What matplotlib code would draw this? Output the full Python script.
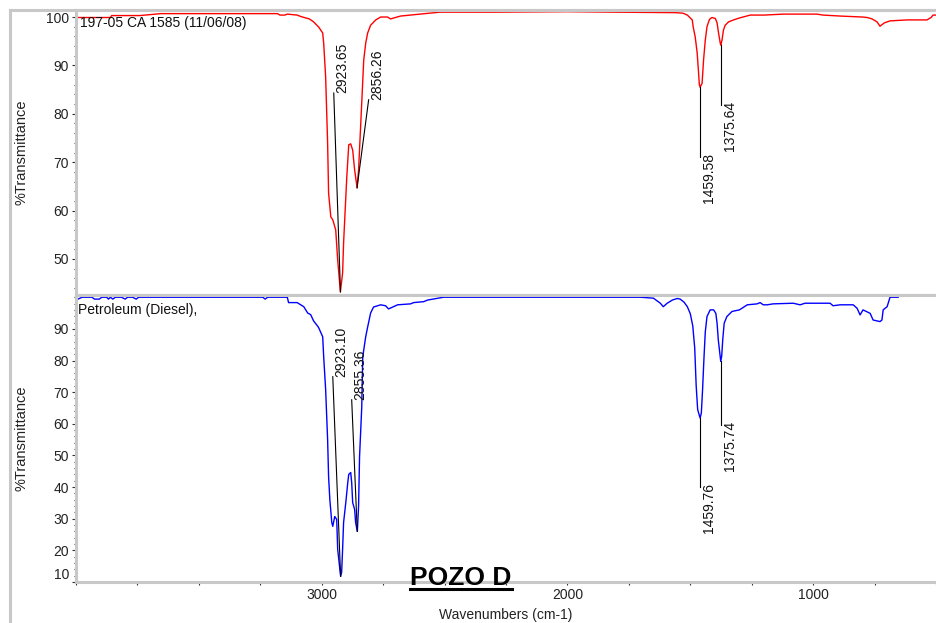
import matplotlib
matplotlib.use("Agg")
import matplotlib.pyplot as plt
from matplotlib.lines import Line2D
from matplotlib.ticker import FixedLocator, MultipleLocator

plt.rcParams['font.family'] = ['Liberation Sans', 'DejaVu Sans']

# ---------------- data ----------------
red_wn = [4000, 3860, 3855, 3740, 3655, 3180, 3170, 3150, 3140, 3100, 3085, 3050,
          3033, 3012, 2996, 2992, 2984, 2976, 2972, 2963, 2955, 2943, 2935, 2924,
          2915, 2911, 2898, 2890, 2882, 2874, 2866, 2856, 2850, 2841, 2829, 2821,
          2813, 2801, 2780, 2760, 2732, 2720, 2707, 2679, 2600, 2520, 2300, 2000,
          1800, 1560, 1530, 1512, 1492, 1488, 1480, 1472, 1467, 1463, 1460, 1452,
          1446, 1439, 1432, 1422, 1412, 1398, 1391, 1385, 1378, 1376, 1371, 1365,
          1358, 1344, 1324, 1300, 1256, 1200, 1122, 984, 960, 890, 800, 780,
          760, 740, 728, 710, 687, 618, 537, 520, 512, 500]
red_t = [99.9, 99.9, 100.3, 100.3, 100.7, 100.7, 100.4, 100.4, 100.6, 100.4, 100.1, 99.6,
         99.0, 97.9, 96.7, 94.6, 87.6, 74.0, 63.6, 58.7, 58.1, 56.0, 49.8, 43.2,
         47.1, 53.3, 66.9, 73.6, 73.8, 72.5, 68.4, 64.7, 68.4, 78.1, 91.1, 94.6,
         96.7, 98.3, 99.4, 100.0, 100.0, 99.6, 99.8, 100.2, 100.6, 101.0, 101.0, 101.1,
         101.0, 100.9, 100.8, 100.4, 99.4, 97.9, 95.9, 92.6, 89.0, 86.0, 85.5, 86.3,
         91.1, 95.2, 98.0, 99.5, 99.9, 99.7, 98.8, 96.7, 94.6, 94.2, 95.2, 97.3,
         98.3, 99.0, 99.4, 99.8, 100.4, 100.4, 100.6, 100.6, 100.4, 100.2, 100.0, 99.9,
         99.6, 99.0, 98.1, 98.8, 99.2, 99.4, 99.4, 99.9, 100.4, 100.4]

blue_wn = [4000, 3992, 3975, 3935, 3925, 3905, 3895, 3875, 3868, 3860, 3850, 3840,
           3815, 3800, 3790, 3770, 3755, 3745, 3240, 3230, 3220, 3140, 3135, 3100,
           3085, 3073, 3057, 3045, 3033, 3016, 3012, 2996, 2992, 2984, 2976, 2972,
           2967, 2959, 2955, 2947, 2939, 2935, 2923, 2919, 2915, 2911, 2902, 2894,
           2890, 2882, 2878, 2874, 2866, 2862, 2855, 2850, 2846, 2837, 2833, 2821,
           2813, 2801, 2789, 2760, 2740, 2728, 2711, 2691, 2638, 2626, 2585, 2569,
           2504, 1703, 1650, 1622, 1610, 1594, 1573, 1553, 1541, 1525, 1512, 1500,
           1490, 1482, 1476, 1470, 1460, 1455, 1450, 1444, 1439, 1432, 1419, 1405,
           1396, 1391, 1386, 1376, 1372, 1368, 1362, 1351, 1330, 1300, 1268, 1228,
           1216, 1203, 1187, 1163, 1081, 1053, 1033, 931, 919, 890, 837, 821,
           809, 797, 784, 768, 756, 728, 720, 715, 699, 687, 654]
blue_t = [99.4, 99.4, 100.0, 100.0, 99.4, 99.4, 100.0, 100.0, 99.4, 100.0, 99.4, 100.0,
          100.0, 99.4, 100.0, 100.0, 99.4, 100.0, 100.0, 99.4, 100.0, 100.0, 98.3, 98.3,
          97.6, 97.0, 95.0, 94.5, 92.5, 90.8, 90.3, 87.5, 81.2, 70.8, 55.0, 43.3,
          36.1, 28.8, 27.6, 30.7, 29.8, 20.3, 11.8, 13.0, 20.3, 28.8, 35.1, 41.4,
          44.0, 44.6, 41.4, 35.1, 32.9, 28.8, 26.0, 33.9, 49.6, 65.4, 81.2, 87.5,
          90.6, 95.0, 96.9, 97.6, 97.3, 96.3, 96.9, 97.6, 97.9, 98.3, 98.6, 99.1,
          100.0, 100.0, 99.7, 98.1, 97.0, 98.1, 99.1, 99.6, 99.4, 98.4, 97.0, 94.8,
          91.0, 84.0, 72.0, 64.5, 61.8, 63.4, 70.8, 81.3, 89.0, 93.9, 96.0, 96.0,
          94.9, 91.8, 86.5, 79.7, 81.5, 86.5, 91.8, 93.9, 95.5, 96.0, 97.6, 97.9,
          98.3, 97.6, 97.6, 97.9, 98.1, 97.6, 98.1, 98.1, 97.3, 97.6, 97.6, 96.5,
          94.4, 96.0, 95.5, 94.9, 92.8, 92.3, 92.8, 96.0, 97.0, 100.0, 100.0]

# peak annotations: label, peak wn, peak %T, line-end wn, line-end %T
top_peak_labels = ["2923.65", "2856.26", "1459.58", "1375.64"]
top_peak_wn = [2923.65, 2856.26, 1459.58, 1375.64]
top_peak_t = [43.2, 64.7, 85.5, 94.2]
top_end_wn = [2951, 2809, 1459.58, 1375.64]
top_end_t = [84.3, 82.9, 71.1, 81.8]

bot_peak_labels = ["2923.10", "2855.36", "1459.76", "1375.74"]
bot_peak_wn = [2923.10, 2855.36, 1459.76, 1375.74]
bot_peak_t = [11.8, 26.0, 61.8, 79.7]
bot_end_wn = [2955, 2878, 1459.76, 1375.74]
bot_end_t = [74.9, 67.6, 39.9, 59.7]

top_yticks = [50, 60, 70, 80, 90, 100]
bot_yticks = [10, 20, 30, 40, 50, 60, 70, 80, 90]
x_major = [3000, 2000, 1000]

# ---------------- layout ----------------
W, H = 936, 623
fig = plt.figure(figsize=(W / 100, H / 100), dpi=100)
GRAY = '#c8c8c8'


def px_rect(l, t, r, b):
    return [l / W, 1 - b / H, (r - l) / W, (b - t) / H]


ax1 = fig.add_axes(px_rect(76, 10, 936, 295))
ax2 = fig.add_axes(px_rect(76, 295, 936, 582))

# outer frame
fig.add_artist(Line2D([10 / W, 10 / W], [0, 1 - 10 / H], transform=fig.transFigure,
                      color=GRAY, lw=2.2))
fig.add_artist(Line2D([10 / W, 1], [1 - 10 / H, 1 - 10 / H], transform=fig.transFigure,
                      color=GRAY, lw=2.2))

ax1.plot(red_wn, red_t, color='#ff0000', lw=1.0)
ax2.plot(blue_wn, blue_t, color='#0000ff', lw=1.0)

ax1.set_ylim(42.56, 101.45)
ax2.set_ylim(10.0, 100.7)

for ax, yt in ((ax1, top_yticks), (ax2, bot_yticks)):
    ax.set_xlim(4000, 500)
    for s in ('top', 'bottom', 'left'):
        ax.spines[s].set_color(GRAY)
        ax.spines[s].set_linewidth(2.2)
    ax.spines['right'].set_visible(False)
    ax.yaxis.set_major_locator(FixedLocator(yt))
    ax.yaxis.set_minor_locator(MultipleLocator(2))
    ax.tick_params(axis='y', which='major', direction='out', length=3, width=0.8,
                   color='#333333', pad=2, labelsize=10, labelcolor='#222222')
    ax.tick_params(axis='y', which='minor', direction='out', length=1.5, width=0.8,
                   color='#333333')
    ax.set_ylabel('%Transmittance', fontsize=10.5, va='center', color='#222222')
    ax.yaxis.set_label_coords((22 - 76) / 860, 0.5)

ax1.tick_params(axis='x', which='both', bottom=False, labelbottom=False)
ax2.xaxis.set_major_locator(FixedLocator(x_major))
ax2.xaxis.set_minor_locator(MultipleLocator(250))
ax2.tick_params(axis='x', which='both', direction='out', length=2.5, width=0.8,
                color='#333333', pad=2, labelsize=10, labelcolor='#222222')
ax2.set_xlabel('Wavenumbers (cm-1)', fontsize=10, color='#222222')
ax2.xaxis.set_label_coords(0.5, -0.089)

# lowest bottom-panel label sits above its tick
ax2.yaxis.get_major_ticks()[0].label1.set_verticalalignment('bottom')


def annotate(ax, labels, pwn, pt, ewn, et):
    for lab, x0, y0, x1, y1 in zip(labels, pwn, pt, ewn, et):
        ax.plot([x0, x1], [y0, y1], color='black', lw=0.8)
        if y1 > y0:
            ax.annotate(lab, xy=(x1, y1), xytext=(1, 0), textcoords='offset points',
                        rotation=90, ha='left', va='bottom', fontsize=10, color='#111111')
        else:
            ax.annotate(lab, xy=(x1, y1), xytext=(1.5, 3), textcoords='offset points',
                        rotation=90, ha='left', va='top', fontsize=10, color='#111111')


annotate(ax1, top_peak_labels, top_peak_wn, top_peak_t, top_end_wn, top_end_t)
annotate(ax2, bot_peak_labels, bot_peak_wn, bot_peak_t, bot_end_wn, bot_end_t)

fig.text(80 / W, 1 - 27.3 / H, '197-05 CA 1585 (11/06/08)', fontsize=10,
         va='baseline', ha='left', color='#111111')
fig.text(78 / W, 1 - 314 / H, 'Petroleum (Diesel),', fontsize=10,
         va='baseline', ha='left', color='#111111')

fig.text(461 / W, 1 - 585 / H, 'POZO D', fontsize=19, fontweight='bold',
         ha='center', va='baseline', color='black', zorder=5)
fig.add_artist(Line2D([410 / W, 512 / W], [1 - 588.5 / H, 1 - 588.5 / H],
                      transform=fig.transFigure, color='black', lw=2.2, zorder=5))

fig.savefig('out.png', dpi=100, facecolor='white')
